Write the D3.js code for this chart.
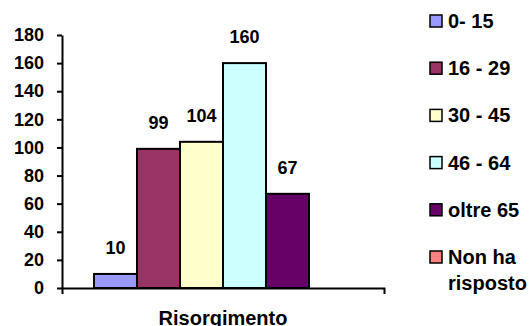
<!DOCTYPE html>
<html>
<head>
<meta charset="utf-8">
<script src="https://cdn.jsdelivr.net/npm/d3@7"></script>
<style>
  html, body { margin: 0; padding: 0; background: #fff; }
  svg { display: block; }
  text { font-family: Arial, "Liberation Sans", sans-serif; font-weight: bold; fill: #000; }
</style>
</head>
<body>
<svg id="chart" width="532" height="326"></svg>
<script>
const categories = ["Risorgimento"];
const seriesNames = ["0- 15", "16 - 29", "30 - 45", "46 - 64", "oltre 65", "Non ha risposto"];
const legendLines = [["0- 15"], ["16 - 29"], ["30 - 45"], ["46 - 64"], ["oltre 65"], ["Non ha", "risposto"]];
const values = [10, 99, 104, 160, 67, 0];
const colors = ["#9999FF", "#993366", "#FFFFCC", "#CCFFFF", "#660066", "#FF8080"];
const yTicks = [0, 20, 40, 60, 80, 100, 120, 140, 160, 180];

const svg = d3.select("#chart");

const x0 = d3.scaleBand().domain(categories).range([62, 384]).paddingInner(0).paddingOuter(0.124);
const x1 = d3.scaleBand().domain(seriesNames).range([0, x0.bandwidth()]);
const y = d3.scaleLinear().domain([0, 180]).range([288, 35]);

// bars
const g = svg.append("g");
categories.forEach(cat => {
  seriesNames.forEach((s, i) => {
    const v = values[i];
    if (v > 0) {
      g.append("rect")
        .attr("x", x0(cat) + x1(s))
        .attr("y", y(v))
        .attr("width", x1.bandwidth())
        .attr("height", y(0) - y(v))
        .attr("fill", colors[i])
        .attr("stroke", "#000")
        .attr("stroke-width", 2);
      g.append("text")
        .attr("x", x0(cat) + x1(s) + x1.bandwidth() / 2)
        .attr("y", y(v) - 20)
        .attr("text-anchor", "middle")
        .style("font-size", "18px")
        .text(v);
    }
  });
});

// y axis
const yAxis = svg.append("g")
  .attr("transform", "translate(62,0)")
  .call(d3.axisLeft(y).tickValues(yTicks).tickSizeInner(5).tickSizeOuter(0).tickPadding(13));
yAxis.selectAll("text").style("font-size", "18px").style("font-family", "Arial, 'Liberation Sans', sans-serif").style("font-weight", "bold");
yAxis.selectAll("path, line").attr("stroke", "#000").attr("stroke-width", 2);

// x axis
const xAxis = svg.append("g")
  .attr("transform", "translate(0,288)")
  .call(d3.axisBottom(x0).tickSizeInner(0).tickSizeOuter(6).tickPadding(23));
xAxis.selectAll("text").style("font-size", "20px").style("font-family", "Arial, 'Liberation Sans', sans-serif").style("font-weight", "bold");
xAxis.selectAll("path, line").attr("stroke", "#000").attr("stroke-width", 2);

// legend
const legendY = d3.scalePoint().domain(seriesNames).range([21, 257]);
const lg = svg.append("g");
seriesNames.forEach((s, i) => {
  const cy = legendY(s);
  lg.append("rect")
    .attr("x", 430).attr("y", cy - 6)
    .attr("width", 12).attr("height", 12)
    .attr("fill", colors[i]).attr("stroke", "#000").attr("stroke-width", 1.5);
  legendLines[i].forEach((line, j) => {
    lg.append("text")
      .attr("x", 448).attr("y", cy + j * 26)
      .attr("dominant-baseline", "central")
      .style("font-size", "20px")
      .text(line);
  });
});
</script>
</body>
</html>
